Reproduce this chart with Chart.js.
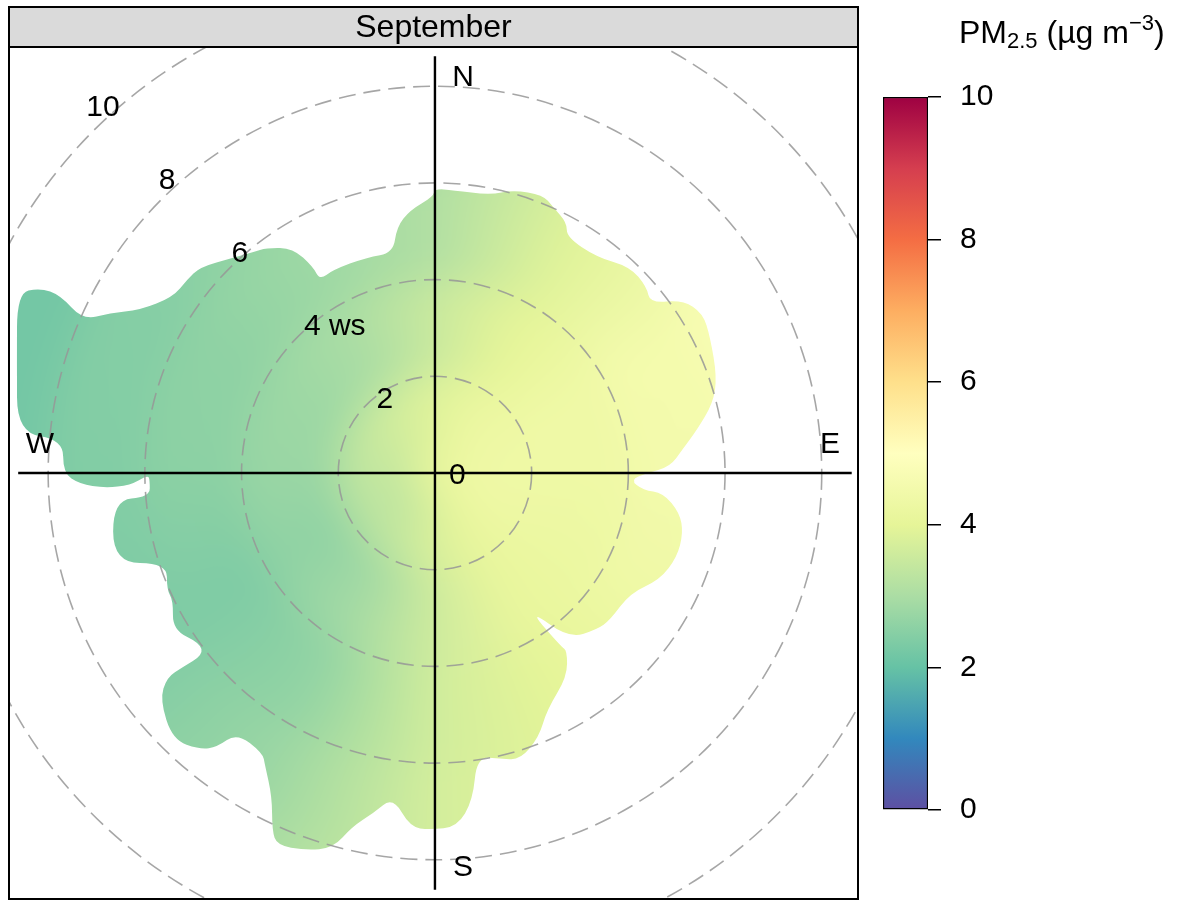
<!DOCTYPE html>
<html>
<head>
<meta charset="utf-8">
<script src="https://cdn.jsdelivr.net/npm/chart.js@4.4.1/dist/chart.umd.min.js"></script>
<style>
  html, body { margin: 0; padding: 0; background: #fff; }
  #wrap { position: relative; width: 1189px; height: 901px; overflow: hidden;
          font-family: "Liberation Sans", Arial, Helvetica, sans-serif; }
  #polar { position: absolute; left: 0; top: 0; }
  #key { position: absolute; left: 860px; top: 0; }
  #keyTitle { position: absolute; left: 959px; top: 16px; font-size: 32px; line-height: 1;
              white-space: nowrap; color: #000; }
  #keyTitle sub, #keyTitle sup { font-size: 22px; vertical-align: baseline; position: relative; }
  #keyTitle sub { top: 5px; }
  #keyTitle sup { top: -13px; }
</style>
</head>
<body>
<div id="wrap">
  <canvas id="polar" width="870" height="901"></canvas>
  <canvas id="key" width="329" height="901"></canvas>
  <div id="keyTitle">PM<sub>2.5</sub> (µg m<sup>−3</sup>)</div>
</div>
<script>
// wind directions (deg clockwise from north) where the surface was read
const directions = [0, 30, 60, 90, 120, 150, 180, 210, 240, 270, 300, 330];
// wind speed rings for the read values
const ringWs = [0, 1, 3, 5, 7, 9];
// PM2.5 at each ring, one value per direction
const pmWs0 = [4.1, 4.1, 4.1, 4.1, 4.1, 4.1, 4.1, 4.1, 4.1, 4.1, 4.1, 4.1];
const pmWs1 = [3.9, 4.2, 4.3, 4.35, 4.3, 4.1, 3.8, 3.4, 3.3, 3.4, 3.5, 3.7];
const pmWs3 = [3.5, 4.0, 4.35, 4.35, 4.25, 4.1, 3.6, 2.9, 2.6, 2.75, 2.8, 3.0];
const pmWs5 = [3.1, 3.9, 4.55, 4.5, 4.35, 4.0, 3.65, 2.65, 2.35, 2.55, 2.6, 2.8];
const pmWs7 = [3.0, 3.9, 4.7, 4.6, 4.35, 4.0, 3.7, 2.75, 2.35, 2.4, 2.45, 2.7];
const pmWs9 = [3.0, 3.9, 4.7, 4.6, 4.35, 4.0, 3.7, 2.85, 2.3, 2.2, 2.2, 2.6];
const ringValues = [pmWs0, pmWs1, pmWs3, pmWs5, pmWs7, pmWs9];

// outline of the plotted area: direction (deg) and wind speed, in order round the edge
const edgeDir = [0, 3.6, 11.2, 15.4, 21.2, 23.9, 27.8, 29.2, 36.9, 43.4, 48.7, 51.7, 55.1, 59.2, 63.7,
  71.2, 75.9, 80.7, 84.5, 88.5, 90, 92, 94.7, 95, 99.3, 103.6, 109.1, 115.4, 121.6, 130, 134, 141,
  145.5, 144, 143.3, 147, 154.7, 158.5, 163.5, 167.2, 171.6, 173.4, 176.4, 180.8, 184, 187.4, 190.3,
  193.2, 195.2, 199, 203, 204.5, 206.7, 210.2, 211.6, 217.3, 218.5, 220.3, 224.5, 230.5, 232.7, 232.4,
  231.9, 234.1, 239.1, 244.1, 246.4, 251.4, 254.4, 265.2, 265.2, 268.6, 269.6, 267.7, 267.4, 268.2,
  270, 275.1, 275.5, 284.7, 293.3, 295.1, 295.4, 293.5, 296.2, 298.9, 303.9, 307.9, 311.2, 316.8,
  320.5, 323.3, 327.7, 329.4, 329.2, 333.3, 342.5, 349.2, 351.2, 354.6, 359.6];
const edgeWs = [5.88, 5.86, 5.86, 6.07, 6.17, 6.02, 5.85, 5.59, 5.58, 5.87, 5.83, 5.67, 6.25, 6.45, 6.35,
  6.16, 5.93, 5.49, 5.15, 4.86, 4.38, 4.04, 4.32, 4.74, 5.13, 5.28, 5.3, 5.15, 4.74, 4.73, 4.66, 4.40,
  3.4, 4.45, 4.57, 5.02, 5.42, 5.87, 6.19, 6.05, 5.94, 6.81, 7.33, 7.38, 7.34, 6.76, 7.15,
  7.52, 8.04, 8.25, 8.36, 8.12, 7.5, 6.99, 6.8, 6.76, 7.24, 7.5, 7.74, 7.37, 6.97, 6.58,
  6.1, 6.0, 6.32, 6.02, 6.05, 5.85, 6.91, 6.68, 5.92, 5.9, 5.94, 6.31, 6.83, 7.35,
  7.69, 7.72, 8.68, 8.94, 9.41, 9.02, 8.58, 7.94, 7.49, 6.97, 6.53, 6.5, 6.46, 6.1,
  5.92, 5.81, 5.5, 4.95, 4.65, 4.7, 4.68, 4.63, 5.15, 5.46, 5.71];

const ringTicks = [0, 2, 4, 6, 8, 10];
const compass = ['N', 'E', 'S', 'W'];
const keyTicks = [0, 2, 4, 6, 8, 10];
const palette = ['#5E4FA2', '#3288BD', '#66C2A5', '#ABDDA4', '#E6F598', '#FFFFBF',
                 '#FEE08B', '#FDAE61', '#F46D43', '#D53E4F', '#9E0142'];

const family = '"Liberation Sans", Arial, Helvetica, sans-serif';
const keyMin = keyTicks[0], keyMax = keyTicks[keyTicks.length - 1];

const paletteRgb = palette.map(h => [1, 3, 5].map(i => parseInt(h.slice(i, i + 2), 16)));
function pmColour(v) {
  const t = Math.max(0, Math.min(1, (v - keyMin) / (keyMax - keyMin))) * (palette.length - 1);
  const i = Math.min(palette.length - 2, Math.floor(t));
  const f = t - i;
  const a = paletteRgb[i], b = paletteRgb[i + 1];
  return 'rgb(' + a.map((c, k) => Math.round(c + (b[k] - c) * f)).join(',') + ')';
}

const rad = d => d * Math.PI / 180;
const edgePoints = edgeDir.map((d, i) => ({x: edgeWs[i] * Math.sin(rad(d)), y: edgeWs[i] * Math.cos(rad(d))}));

const axisReach = 8.62;

// rounded outline through the edge points (curves between midpoints)
function tracePath(ctx, pts) {
  const n = pts.length;
  const mid = (p, q) => ({x: (p.x + q.x) / 2, y: (p.y + q.y) / 2});
  const m0 = mid(pts[n - 1], pts[0]);
  ctx.moveTo(m0.x, m0.y);
  for (let i = 0; i < n; i++) {
    const m = mid(pts[i], pts[(i + 1) % n]);
    ctx.quadraticCurveTo(pts[i].x, pts[i].y, m.x, m.y);
  }
  ctx.closePath();
}

const surfacePlugin = {
  id: 'surface',
  beforeDatasetsDraw(chart) {
    const {ctx, chartArea: a, scales: {x, y}} = chart;
    const cx = x.getPixelForValue(0), cy = y.getPixelForValue(0);
    const px = ws => x.getPixelForValue(ws) - cx;

    // colour field: one conic band per ring, smoothed afterwards
    const pad = 140;
    const off = document.createElement('canvas');
    off.width = chart.width + 2 * pad;
    off.height = chart.height + 2 * pad;
    const o = off.getContext('2d');
    const ox = cx + pad, oy = cy + pad;
    for (let k = ringWs.length - 1; k >= 0; k--) {
      const outer = k === ringWs.length - 1 ? ringWs[k] + 2 : (ringWs[k] + ringWs[k + 1]) / 2;
      const vals = ringValues[k];
      const g = o.createConicGradient(-Math.PI / 2, ox, oy);
      directions.forEach((d, i) => g.addColorStop(d / 360, pmColour(vals[i])));
      g.addColorStop(1, pmColour(vals[0]));
      o.fillStyle = g;
      o.beginPath();
      o.arc(ox, oy, px(outer), 0, 2 * Math.PI);
      o.fill();
    }

    const meta = chart.getDatasetMeta(0);
    ctx.save();
    ctx.beginPath();
    tracePath(ctx, meta.data.map(p => ({x: p.x, y: p.y})));
    ctx.clip();
    ctx.filter = 'blur(20px)';
    ctx.drawImage(off, -pad, -pad);
    ctx.restore();

    // dashed speed rings
    ctx.save();
    ctx.beginPath();
    ctx.rect(a.left, a.top, a.right - a.left, a.bottom - a.top);
    ctx.clip();
    ctx.setLineDash([17, 8]);
    ctx.lineWidth = 1.6;
    ctx.strokeStyle = 'rgba(150,150,150,0.85)';
    ringTicks.filter(r => r > 0).forEach(r => {
      ctx.beginPath();
      ctx.arc(cx, cy, px(r), 0, 2 * Math.PI);
      ctx.stroke();
    });
    ctx.restore();
  },
  afterDatasetsDraw(chart) {
    const {ctx, scales: {x, y}} = chart;
    ctx.save();
    ctx.fillStyle = '#000';
    ctx.font = '30px ' + family;
    ctx.textBaseline = 'middle';
    // ring labels
    ctx.textAlign = 'left';
    ringTicks.forEach(r => {
      const label = r === 4 ? r + ' ws' : String(r);
      ctx.fillText(label, x.getPixelForValue(-0.75 * r) + 14, y.getPixelForValue(0.755 * r) + (r === 0 ? 3 : 0));
    });
    // compass points
    ctx.textAlign = 'center';
    const R = 8.17, o = 0.58;
    const pos = {N: [o, R], E: [R, o], S: [o, -R], W: [-R, o]};
    compass.forEach(c => ctx.fillText(c, x.getPixelForValue(pos[c][0]), y.getPixelForValue(pos[c][1])));
    ctx.restore();
  },
  afterDraw(chart) {
    const {ctx, chartArea: a} = chart;
    const w = a.right - a.left, h = a.bottom - a.top, sh = 40;
    ctx.save();
    ctx.fillStyle = '#dadada';
    ctx.fillRect(a.left, a.top - sh, w, sh);
    ctx.strokeStyle = '#000';
    ctx.lineWidth = 2;
    ctx.setLineDash([]);
    ctx.strokeRect(a.left, a.top - sh, w, sh);
    ctx.strokeRect(a.left, a.top, w, h);
    ctx.fillStyle = '#000';
    ctx.font = '32px ' + family;
    ctx.textAlign = 'center';
    ctx.textBaseline = 'middle';
    ctx.fillText('September', a.left + w / 2, a.top - sh / 2 + 1);
    ctx.restore();
  }
};

new Chart(document.getElementById('polar'), {
  type: 'scatter',
  data: {
    datasets: [
      {label: 'edge', data: edgePoints, pointRadius: 0, showLine: false},
      {label: 'ew', data: [{x: -axisReach, y: 0}, {x: axisReach, y: 0}], showLine: true,
       borderColor: '#000', borderWidth: 2.4, pointRadius: 0},
      {label: 'ns', data: [{x: 0, y: -axisReach}, {x: 0, y: axisReach}], showLine: true,
       borderColor: '#000', borderWidth: 2.4, pointRadius: 0}
    ]
  },
  options: {
    responsive: false,
    animation: false,
    devicePixelRatio: 1,
    layout: {padding: {left: 9, top: 47, right: 12, bottom: 2}},
    plugins: {legend: {display: false}, tooltip: {enabled: false}},
    scales: {
      x: {type: 'linear', min: -8.81, max: 8.75, display: false},
      y: {type: 'linear', min: -8.81, max: 8.81, display: false}
    }
  },
  plugins: [surfacePlugin]
});

new Chart(document.getElementById('key'), {
  type: 'bar',
  data: {
    labels: ['PM2.5'],
    datasets: [{
      data: [[keyMin, keyMax]],
      backgroundColor: c => {
        const area = c.chart.chartArea;
        if (!area) return null;
        const g = c.chart.ctx.createLinearGradient(0, area.bottom, 0, area.top);
        palette.forEach((col, i) => g.addColorStop(i / (palette.length - 1), col));
        return g;
      },
      borderColor: '#000',
      borderWidth: 1.5,
      borderSkipped: false,
      barPercentage: 1,
      categoryPercentage: 1
    }]
  },
  options: {
    responsive: false,
    animation: false,
    devicePixelRatio: 1,
    layout: {padding: {left: 23, top: 97, bottom: 91, right: 161}},
    plugins: {legend: {display: false}, tooltip: {enabled: false}},
    scales: {
      x: {display: false},
      y: {
        position: 'right', min: keyMin, max: keyMax,
        afterFit: s => { s.width = 100; },
        border: {display: false},
        grid: {drawOnChartArea: false, drawTicks: true, tickLength: 13, color: '#000', lineWidth: 1.5},
        ticks: {stepSize: 2, color: '#000', padding: 19, font: {size: 30, family: family}}
      }
    }
  }
});
</script>
</body>
</html>
